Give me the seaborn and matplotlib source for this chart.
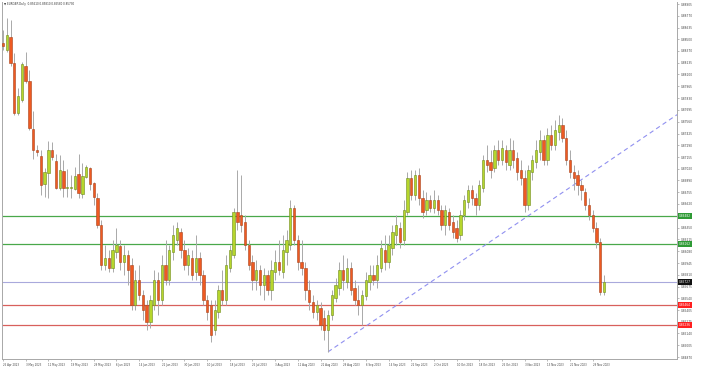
import matplotlib
matplotlib.use("Agg")
import matplotlib.pyplot as plt
import seaborn as sns
import numpy as np
import pandas as pd
from matplotlib.transforms import blended_transform_factory

opens = [0.8846, 0.8838, 0.8853, 0.8823, 0.8766, 0.8781, 0.8820, 0.8803, 0.8748, 0.8724,
         0.8717, 0.8685, 0.8697, 0.8724, 0.8711, 0.8680, 0.8700, 0.8680, 0.8680, 0.8679,
         0.8696, 0.8673, 0.8693, 0.8703, 0.8686, 0.8669, 0.8638, 0.8592, 0.8600, 0.8589,
         0.8607, 0.8614, 0.8596, 0.8604, 0.8592, 0.8547, 0.8575, 0.8558, 0.8547, 0.8527,
         0.8547, 0.8575, 0.8552, 0.8592, 0.8575, 0.8607, 0.8621, 0.8630, 0.8609, 0.8592,
         0.8600, 0.8584, 0.8600, 0.8581, 0.8552, 0.8547, 0.8518, 0.8538, 0.8564, 0.8552,
         0.8589, 0.8604, 0.8653, 0.8649, 0.8641, 0.8615, 0.8596, 0.8575, 0.8586, 0.8569,
         0.8581, 0.8564, 0.8584, 0.8596, 0.8584, 0.8607, 0.8615, 0.8657, 0.8621, 0.8596,
         0.8589, 0.8564, 0.8550, 0.8538, 0.8543, 0.8532, 0.8518, 0.8535, 0.8555, 0.8566,
         0.8586, 0.8573, 0.8589, 0.8566, 0.8552, 0.8547, 0.8557, 0.8573, 0.8581, 0.8575,
         0.8589, 0.8609, 0.8596, 0.8612, 0.8626, 0.8634, 0.8621, 0.8653, 0.8692, 0.8672,
         0.8695, 0.8669, 0.8655, 0.8667, 0.8657, 0.8667, 0.8655, 0.8638, 0.8653, 0.8641,
         0.8634, 0.8626, 0.8649, 0.8664, 0.8678, 0.8669, 0.8661, 0.8680, 0.8712, 0.8710,
         0.8703, 0.8724, 0.8712, 0.8724, 0.8706, 0.8724, 0.8714, 0.8701, 0.8692, 0.8661,
         0.8698, 0.8710, 0.8721, 0.8735, 0.8712, 0.8741, 0.8729, 0.8744, 0.8752, 0.8737,
         0.8712, 0.8698, 0.8695, 0.8684, 0.8676, 0.8661, 0.8649, 0.8634, 0.8618, 0.8561]

highs = [0.8861, 0.8875, 0.8872, 0.8834, 0.8795, 0.8824, 0.8836, 0.8815, 0.8768, 0.8729,
         0.8724, 0.8703, 0.8734, 0.8733, 0.8719, 0.8718, 0.8712, 0.8702, 0.8695, 0.8704,
         0.8719, 0.8709, 0.8706, 0.8704, 0.8687, 0.8675, 0.8644, 0.8615, 0.8609, 0.8621,
         0.8634, 0.8621, 0.8615, 0.8609, 0.8600, 0.8586, 0.8592, 0.8564, 0.8552, 0.8558,
         0.8586, 0.8584, 0.8604, 0.8621, 0.8615, 0.8638, 0.8641, 0.8634, 0.8621, 0.8612,
         0.8609, 0.8626, 0.8607, 0.8586, 0.8558, 0.8552, 0.8552, 0.8569, 0.8586, 0.8604,
         0.8615, 0.8657, 0.8701, 0.8695, 0.8649, 0.8621, 0.8604, 0.8598, 0.8592, 0.8589,
         0.8586, 0.8598, 0.8609, 0.8621, 0.8626, 0.8632, 0.8667, 0.8661, 0.8626, 0.8621,
         0.8596, 0.8575, 0.8558, 0.8552, 0.8550, 0.8541, 0.8541, 0.8564, 0.8577, 0.8596,
         0.8604, 0.8600, 0.8596, 0.8575, 0.8569, 0.8564, 0.8584, 0.8592, 0.8592, 0.8604,
         0.8621, 0.8626, 0.8626, 0.8638, 0.8649, 0.8641, 0.8667, 0.8698, 0.8701, 0.8701,
         0.8703, 0.8678, 0.8676, 0.8672, 0.8678, 0.8672, 0.8661, 0.8661, 0.8657, 0.8649,
         0.8644, 0.8655, 0.8672, 0.8684, 0.8684, 0.8675, 0.8689, 0.8718, 0.8729, 0.8724,
         0.8729, 0.8735, 0.8735, 0.8729, 0.8737, 0.8735, 0.8721, 0.8712, 0.8701, 0.8706,
         0.8718, 0.8735, 0.8747, 0.8741, 0.8749, 0.8752, 0.8758, 0.8764, 0.8760, 0.8747,
         0.8724, 0.8706, 0.8701, 0.8689, 0.8680, 0.8669, 0.8655, 0.8641, 0.8623, 0.8581]

lows = [0.8838, 0.8836, 0.8820, 0.8764, 0.8764, 0.8779, 0.8800, 0.8747, 0.8713, 0.8717,
        0.8672, 0.8670, 0.8669, 0.8712, 0.8679, 0.8678, 0.8670, 0.8670, 0.8669, 0.8678,
        0.8669, 0.8669, 0.8692, 0.8678, 0.8661, 0.8634, 0.8586, 0.8586, 0.8584, 0.8584,
        0.8600, 0.8586, 0.8581, 0.8569, 0.8541, 0.8541, 0.8552, 0.8529, 0.8518, 0.8520,
        0.8541, 0.8535, 0.8547, 0.8569, 0.8569, 0.8598, 0.8615, 0.8600, 0.8586, 0.8581,
        0.8575, 0.8575, 0.8569, 0.8547, 0.8529, 0.8504, 0.8512, 0.8532, 0.8547, 0.8547,
        0.8584, 0.8600, 0.8632, 0.8630, 0.8609, 0.8586, 0.8564, 0.8564, 0.8558, 0.8552,
        0.8558, 0.8552, 0.8575, 0.8581, 0.8577, 0.8592, 0.8609, 0.8615, 0.8586, 0.8581,
        0.8552, 0.8541, 0.8532, 0.8529, 0.8518, 0.8506, 0.8493, 0.8529, 0.8550, 0.8558,
        0.8564, 0.8566, 0.8558, 0.8547, 0.8535, 0.8524, 0.8552, 0.8564, 0.8569, 0.8566,
        0.8584, 0.8586, 0.8589, 0.8604, 0.8615, 0.8612, 0.8615, 0.8649, 0.8667, 0.8667,
        0.8661, 0.8646, 0.8649, 0.8653, 0.8652, 0.8649, 0.8632, 0.8626, 0.8632, 0.8623,
        0.8618, 0.8621, 0.8644, 0.8657, 0.8661, 0.8649, 0.8655, 0.8676, 0.8698, 0.8692,
        0.8698, 0.8706, 0.8706, 0.8701, 0.8701, 0.8703, 0.8689, 0.8684, 0.8653, 0.8655,
        0.8689, 0.8703, 0.8712, 0.8706, 0.8706, 0.8724, 0.8724, 0.8735, 0.8733, 0.8706,
        0.8692, 0.8678, 0.8672, 0.8667, 0.8655, 0.8644, 0.8630, 0.8612, 0.8558, 0.8558]

closes = [0.8842, 0.8855, 0.8823, 0.8766, 0.8785, 0.8822, 0.8803, 0.8749, 0.8724, 0.8721,
          0.8684, 0.8698, 0.8724, 0.8716, 0.8680, 0.8701, 0.8680, 0.8681, 0.8681, 0.8694,
          0.8675, 0.8694, 0.8704, 0.8685, 0.8670, 0.8638, 0.8592, 0.8600, 0.8589, 0.8609,
          0.8615, 0.8596, 0.8604, 0.8586, 0.8547, 0.8575, 0.8558, 0.8541, 0.8527, 0.8552,
          0.8575, 0.8552, 0.8592, 0.8575, 0.8609, 0.8626, 0.8634, 0.8609, 0.8592, 0.8604,
          0.8581, 0.8600, 0.8581, 0.8552, 0.8538, 0.8512, 0.8541, 0.8564, 0.8552, 0.8592,
          0.8609, 0.8653, 0.8641, 0.8638, 0.8615, 0.8592, 0.8575, 0.8586, 0.8569, 0.8581,
          0.8564, 0.8586, 0.8596, 0.8586, 0.8609, 0.8621, 0.8657, 0.8621, 0.8596, 0.8589,
          0.8564, 0.8550, 0.8538, 0.8547, 0.8524, 0.8518, 0.8535, 0.8558, 0.8569, 0.8586,
          0.8575, 0.8589, 0.8564, 0.8552, 0.8547, 0.8558, 0.8575, 0.8581, 0.8575, 0.8592,
          0.8612, 0.8596, 0.8615, 0.8630, 0.8638, 0.8618, 0.8655, 0.8692, 0.8672, 0.8695,
          0.8669, 0.8653, 0.8667, 0.8657, 0.8667, 0.8655, 0.8638, 0.8655, 0.8638, 0.8630,
          0.8623, 0.8649, 0.8667, 0.8678, 0.8669, 0.8661, 0.8684, 0.8712, 0.8706, 0.8701,
          0.8724, 0.8712, 0.8726, 0.8710, 0.8724, 0.8712, 0.8698, 0.8692, 0.8661, 0.8701,
          0.8712, 0.8724, 0.8735, 0.8712, 0.8741, 0.8729, 0.8747, 0.8752, 0.8737, 0.8712,
          0.8698, 0.8692, 0.8684, 0.8678, 0.8661, 0.8649, 0.8634, 0.8618, 0.8561, 0.8573]

date_labels = ["25 Apr 2023", "3 May 2023", "11 May 2023", "19 May 2023", "29 May 2023",
               "6 Jun 2023", "14 Jun 2023", "22 Jun 2023", "30 Jun 2023", "10 Jul 2023",
               "18 Jul 2023", "26 Jul 2023", "3 Aug 2023", "11 Aug 2023", "21 Aug 2023",
               "29 Aug 2023", "6 Sep 2023", "14 Sep 2023", "22 Sep 2023", "2 Oct 2023",
               "10 Oct 2023", "18 Oct 2023", "26 Oct 2023", "3 Nov 2023", "13 Nov 2023",
               "21 Nov 2023", "29 Nov 2023"]
date_positions = [0, 6, 12, 18, 24, 30, 36, 42, 48, 54, 60, 66, 72, 78, 84, 90, 96,
                  102, 108, 114, 120, 126, 132, 138, 144, 150, 156]

y_ticks = [0.88905, 0.88770, 0.88635, 0.88500, 0.88370, 0.88235, 0.88100, 0.87965,
           0.87830, 0.87695, 0.87560, 0.87425, 0.87290, 0.87155, 0.87020, 0.86890,
           0.86755, 0.86620, 0.86485, 0.86350, 0.86215, 0.86080, 0.85945, 0.85810,
           0.85675, 0.85540, 0.85405, 0.85275, 0.85140, 0.85005, 0.84870]

green_levels = [0.86482, 0.86162]
current_level = 0.85727
red_levels = [0.85464, 0.85236]

trend_x = [86, 178.3]
trend_y = [0.8493, 0.8764]

header = "\u25bc EURGBP,Daily  0.85610 0.85810 0.85580 0.85730"

# ---------------------------------------------------------------
sns.set_theme(style="white")
plt.rcParams['font.family'] = ['DejaVu Sans']

W, H = 708, 372
fig = plt.figure(figsize=(W / 100, H / 100), dpi=100)
ax = fig.add_axes([2 / W, 1 - 359 / H, 675 / W, 357 / H])

df = pd.DataFrame({"i": np.arange(len(closes)), "open": opens, "high": highs,
                   "low": lows, "close": closes})
bull = df["close"] >= df["open"]
body_col = np.where(bull, "#b6d62c", "#ee5a22")
edge_col = np.where(bull, "#6f8a1e", "#a8431c")

ax.vlines(df["i"], df["low"], df["high"], color="#a9a9a9", lw=0.7, zorder=2)
bottom = np.minimum(df["open"], df["close"])
height = np.maximum(np.abs(df["close"] - df["open"]), 0.00005)
ax.bar(df["i"], height, bottom=bottom, width=0.62, color=body_col,
       edgecolor=edge_col, linewidth=0.4, zorder=3)

for lv in green_levels:
    ax.axhline(lv, color="#49a84a", lw=0.9, zorder=1)
ax.axhline(current_level, color="#a9a9dc", lw=0.8, zorder=1)
for lv in red_levels:
    ax.axhline(lv, color="#d8605c", lw=0.9, zorder=1)

tdf = pd.DataFrame({"x": trend_x, "y": trend_y})
sns.lineplot(data=tdf, x="x", y="y", ax=ax, color="#9090f0", lw=0.8,
             linestyle=(0, (4, 3)), sort=False, estimator=None, zorder=1)

ax.set_xlim(-0.26, 178.3)
ax.set_ylim(0.84848, 0.88928)
ax.set_xlabel("")
ax.set_ylabel("")

ax.yaxis.tick_right()
ax.set_yticks(y_ticks)
ax.set_yticklabels([f"{v:.5f}" for v in y_ticks], fontsize=2.1, color="#444444")
ax.set_xticks(date_positions)
ax.set_xticklabels(date_labels, fontsize=1.9, color="#444444")
for lbl in ax.get_xticklabels():
    lbl.set_ha("left")
ax.tick_params(axis="both", which="both", length=1.5, width=0.4, color="#888888",
               pad=1.2, right=True, bottom=True, left=False)

for side in ["left", "bottom", "right"]:
    ax.spines[side].set_color("#a8a8a8")
    ax.spines[side].set_linewidth(0.7)
ax.spines["top"].set_visible(False)

trans = blended_transform_factory(ax.transAxes, ax.transData)
boxes = [(green_levels[0], "#2e9a35", "white"), (green_levels[1], "#2e9a35", "white"),
         (current_level, "#111111", "white"), (red_levels[0], "#ff1f1f", "white"),
         (red_levels[1], "#ff1f1f", "white")]
for lv, fc, tc in boxes:
    ax.text(1.003, lv, f"{lv:.5f}", transform=trans, fontsize=2.1, color=tc,
            va="center", ha="left", zorder=5,
            bbox=dict(boxstyle="square,pad=0.45", fc=fc, ec="none"))

fig.text(4 / W, 1 - 4 / H, header, fontsize=1.95, va="center", ha="left", color="#333333")

fig.savefig("out.png", dpi=100)
